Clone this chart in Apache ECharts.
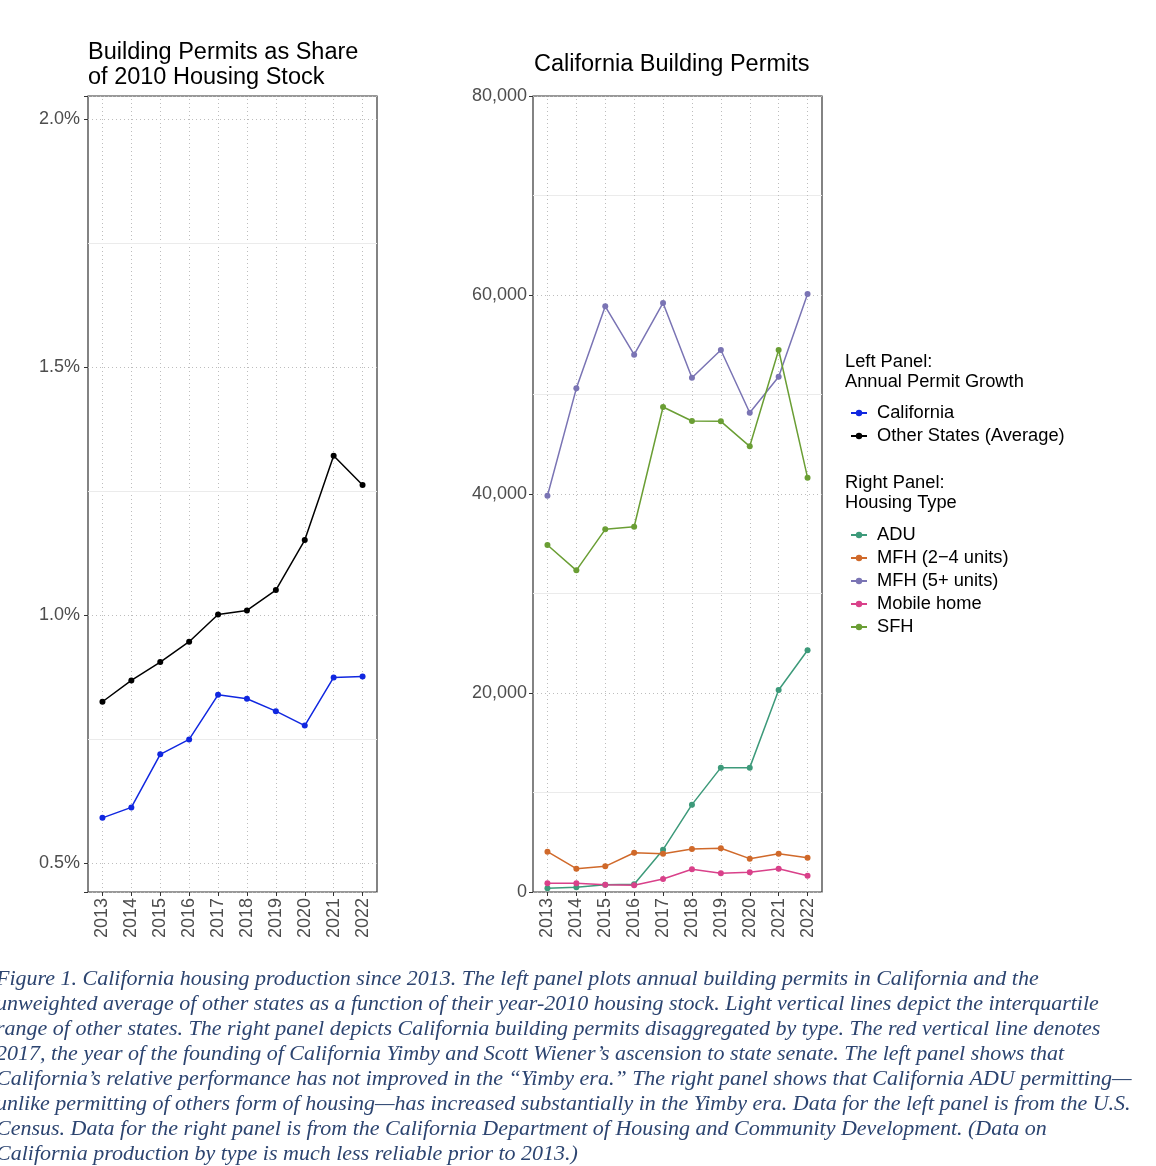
<!DOCTYPE html>
<html>
<head>
<meta charset="utf-8">
<script src="https://cdn.jsdelivr.net/npm/echarts@6/dist/echarts.min.js"></script>
<style>
html,body{margin:0;padding:0;background:#fff;}
#chart{width:1156px;height:1166px;}
</style>
</head>
<body>
<div id="chart"></div>
<script>
// ---- Data ----
const years = ['2013','2014','2015','2016','2017','2018','2019','2020','2021','2022'];
// Left panel: permits as % of 2010 housing stock
const californiaShare = [0.591,0.612,0.719,0.749,0.839,0.831,0.806,0.777,0.874,0.876];
const otherStatesShare = [0.825,0.868,0.905,0.946,1.001,1.009,1.050,1.151,1.321,1.262];
const leftTicks = [0.5,1.0,1.5,2.0];
const leftMinor = [0.75,1.25,1.75];
// Right panel: California permits by type
const adu = [370,470,740,770,4250,8780,12500,12500,20300,24290];
const mfh24 = [4050,2340,2580,3950,3850,4320,4390,3350,3850,3450];
const mfh5 = [39830,50620,58860,54000,59200,51690,54470,48170,51790,60100];
const mobileHome = [870,870,740,670,1310,2280,1880,1980,2340,1640];
const sfh = [34870,32330,36450,36710,48740,47340,47300,44790,54470,41640];

const captionLines = [
 'Figure 1. California housing production since 2013. The left panel plots annual building permits in California and the',
 'unweighted average of other states as a function of their year-2010 housing stock. Light vertical lines depict the interquartile',
 'range of other states. The right panel depicts California building permits disaggregated by type. The red vertical line denotes',
 '2017, the year of the founding of California Yimby and Scott Wiener\u2019s ascension to state senate. The left panel shows that',
 'California\u2019s relative performance has not improved in the \u201cYimby era.\u201d The right panel shows that California ADU permitting\u2014',
 'unlike permitting of others form of housing\u2014has increased substantially in the Yimby era. Data for the left panel is from the U.S.',
 'Census. Data for the right panel is from the California Department of Housing and Community Development. (Data on',
 'California production by type is much less reliable prior to 2013.)'
];

const FONT = '"Liberation Sans", Arial, Helvetica, sans-serif';
const dotted = {type:[1,3], color:'#bdbdbd', width:1};

function xAxisCfg(gi){
  return {
    type:'category', gridIndex:gi, data:years, boundaryGap:true,
    axisLine:{show:false},
    axisTick:{show:true, alignWithLabel:true, length:4, lineStyle:{color:'#333'}},
    axisLabel:{rotate:90, color:'#4d4d4d', fontSize:18, fontFamily:FONT, margin:6},
    splitLine:{show:false}
  };
}

// helper series: vertical dotted gridlines at each year (+ minor horizontal lines)
function gridHelper(gi, minors){
  const data = years.map(y => ({xAxis:y, lineStyle:dotted}));
  minors.forEach(v => data.push({yAxis:v, lineStyle:{type:'solid', color:'#ebebeb', width:1}}));
  return {type:'line', xAxisIndex:gi, yAxisIndex:gi, data:[], silent:true, z:0,
    markLine:{z:0, silent:true, symbol:['none','none'], label:{show:false}, animation:false, data}};
}

const chart = echarts.init(document.getElementById('chart'), null, {renderer:'canvas'});
const lineSeries = (name, data, color, xi, yi) => ({
  name, type:'line', data, xAxisIndex:xi, yAxisIndex:yi,
  symbol:'circle', symbolSize:6, showSymbol:true,
  lineStyle:{color, width:1.5}, itemStyle:{color},
  emphasis:{disabled:true}, z:6
});

chart.setOption({
  animation:false,
  backgroundColor:'#fff',
  textStyle:{fontFamily:FONT},
  title:[
    {text:'Building Permits as Share\nof 2010 Housing Stock', left:88, top:40, padding:0,
     textStyle:{fontSize:23.5, fontWeight:'normal', color:'#000', lineHeight:25, fontFamily:FONT}},
    {text:'California Building Permits', left:534, top:53, padding:0,
     textStyle:{fontSize:23.5, fontWeight:'normal', color:'#000', fontFamily:FONT}}
  ],
  grid:[
    {left:88, top:96, width:289, height:796, show:true, borderColor:'#333', borderWidth:1.2, backgroundColor:'transparent'},
    {left:533, top:96, width:289, height:796, show:true, borderColor:'#333', borderWidth:1.2, backgroundColor:'transparent'}
  ],
  xAxis:[xAxisCfg(0), xAxisCfg(1)],
  yAxis:[
    {type:'value', gridIndex:0, min:0.4415, max:2.046, minInterval:0.5, maxInterval:0.5,
     axisLine:{show:false},
     axisTick:{show:true, length:4, lineStyle:{color:'#333'}},
     axisLabel:{color:'#4d4d4d', fontSize:18, fontFamily:FONT, margin:8, showMinLabel:true, showMaxLabel:true,
       formatter:v => leftTicks.some(t=>Math.abs(t-v)<1e-6) ? v.toFixed(1)+'%' : ''},
     splitLine:{show:true, lineStyle:dotted}},
    {type:'value', gridIndex:1, min:0, max:80000, minInterval:20000, maxInterval:20000,
     axisLine:{show:false},
     axisTick:{show:true, length:4, lineStyle:{color:'#333'}},
     axisLabel:{color:'#4d4d4d', fontSize:18, fontFamily:FONT, margin:6,
       formatter:v => v.toLocaleString('en-US')},
     splitLine:{show:true, lineStyle:dotted},
     minorTick:{show:false, splitNumber:2},
     minorSplitLine:{show:true, lineStyle:{color:'#ebebeb', width:1}}}
  ],
  legend:[
    {data:['California','Other States (Average)'], orient:'vertical', left:845, top:399,
     itemWidth:16, itemHeight:8, itemGap:5, selectedMode:false,
     textStyle:{fontSize:18.3, color:'#000', fontFamily:FONT, padding:[0,0,0,5]}},
    {data:['ADU','MFH (2\u22124 units)','MFH (5+ units)','Mobile home','SFH'], orient:'vertical', left:845, top:521,
     itemWidth:16, itemHeight:8, itemGap:5, selectedMode:false,
     textStyle:{fontSize:18.3, color:'#000', fontFamily:FONT, padding:[0,0,0,5]}}
  ],
  graphic:[
    {type:'text', left:845, top:352, style:{text:'Left Panel:\nAnnual Permit Growth', font:'18.3px '+FONT, fill:'#000', lineHeight:20}},
    {type:'text', left:845, top:473, style:{text:'Right Panel:\nHousing Type', font:'18.3px '+FONT, fill:'#000', lineHeight:20}},
    {type:'text', left:-4, top:967, style:{text:captionLines.join('\n'), font:'italic 22px "Liberation Serif", "Times New Roman", serif', fill:'#2c4470', lineHeight:25}}
  ],
  series:[
    gridHelper(0, leftMinor),
    gridHelper(1, []),
    lineSeries('California', californiaShare, '#1027e0', 0, 0),
    lineSeries('Other States (Average)', otherStatesShare, '#000000', 0, 0),
    lineSeries('ADU', adu, '#3d9a7a', 1, 1),
    lineSeries('MFH (2\u22124 units)', mfh24, '#d0692a', 1, 1),
    lineSeries('MFH (5+ units)', mfh5, '#7a74b4', 1, 1),
    lineSeries('Mobile home', mobileHome, '#d9418a', 1, 1),
    lineSeries('SFH', sfh, '#6a9e34', 1, 1)
  ]
});
</script>
</body>
</html>
